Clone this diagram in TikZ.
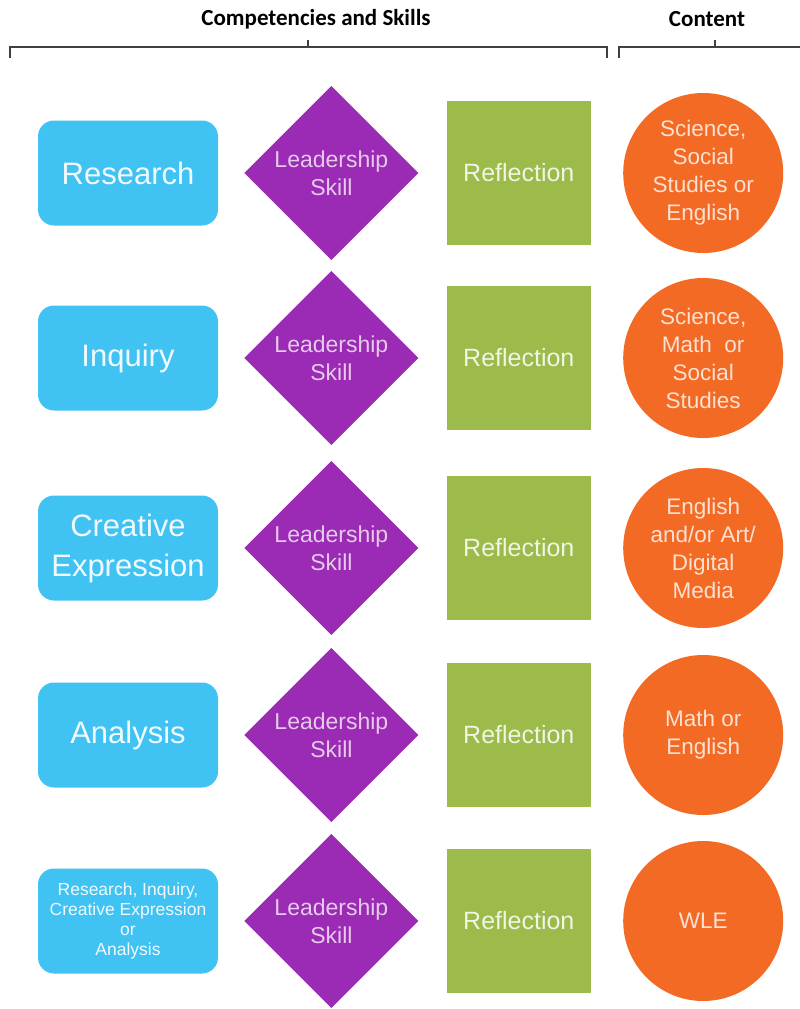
\documentclass[tikz,border=0pt]{standalone}
\usepackage{fontspec}
\setmainfont{Liberation Sans}
\newfontfamily\headfont{Carlito}
\usetikzlibrary{shapes.geometric, positioning}

\definecolor{skyblue}{HTML}{40C2F2}
\definecolor{leadpurple}{HTML}{9B2AB4}
\definecolor{reflgreen}{HTML}{9CBB4B}
\definecolor{contorange}{HTML}{F26A24}

\tikzset{
  competency/.style={rectangle, rounded corners=16pt, fill=skyblue, text=white!92!skyblue, minimum width=180pt, minimum height=105pt, inner sep=0pt, align=center, font=\fontsize{31}{40}\selectfont}, % blue boxes on the left
  leadership/.style={diamond, fill=leadpurple, text=white!75!leadpurple, minimum width=174pt, minimum height=174pt, inner sep=0pt, align=center, font=\fontsize{23}{28}\selectfont}, % purple diamonds
  reflection/.style={rectangle, fill=reflgreen, text=white!85!reflgreen, minimum size=144pt, inner sep=0pt, font=\fontsize{25}{28}\selectfont}, % green squares
  content/.style={circle, fill=contorange, text=white!80!contorange, minimum size=160pt, inner sep=0pt, align=center, font=\fontsize{22.5}{28}\selectfont}, % orange circles
  heading/.style={font=\headfont\bfseries\fontsize{23}{26}\selectfont, text=black}, % titles on top
  bracket/.style={draw=black!75, line width=1.4pt}, % the two brackets
}

\begin{document}
\begin{tikzpicture}[x=1pt, y=-1pt]
    \useasboundingbox (0,0) rectangle (800,1009);

    % headings and brackets
    \node[heading] (skills) at (316,19) {Competencies and Skills};
    \node[heading] (subject) at (707,19) {Content};

    \draw[bracket] (10,58) -- (10,47) -- (607,47) -- (607,58);
    \draw[bracket] (308,47) -- (308,40);
    \draw[bracket] (619,58) -- (619,47) -- (800,47);
    \draw[bracket] (715,47) -- (715,40);

    % row 1
    \node[competency] (c1) at (128,173) {Research};
    \node[leadership, right=26pt of c1] (l1) {Leadership\\Skill};
    \node[reflection, right=28pt of l1] (r1) {Reflection};
    \node[content, right=32pt of r1] (s1) {Science,\\Social\\Studies or\\English};

    % row 2
    \node[competency] (c2) at (128,358) {Inquiry};
    \node[leadership, right=26pt of c2] (l2) {Leadership\\Skill};
    \node[reflection, right=28pt of l2] (r2) {Reflection};
    \node[content, right=32pt of r2] (s2) {Science,\\Math~ or\\Social\\Studies};

    % row 3
    \node[competency] (c3) at (128,548) {Creative\\Expression};
    \node[leadership, right=26pt of c3] (l3) {Leadership\\Skill};
    \node[reflection, right=28pt of l3] (r3) {Reflection};
    \node[content, right=32pt of r3] (s3) {English\\and/or Art/\\Digital\\Media};

    % row 4
    \node[competency] (c4) at (128,735) {Analysis};
    \node[leadership, right=26pt of c4] (l4) {Leadership\\Skill};
    \node[reflection, right=28pt of l4] (r4) {Reflection};
    \node[content, right=32pt of r4] (s4) {Math or\\English};

    % row 5
    \node[competency, font=\fontsize{17.5}{20}\selectfont] (c5) at (128,921) {Research, Inquiry,\\Creative Expression\\or\\Analysis};
    \node[leadership, right=26pt of c5] (l5) {Leadership\\Skill};
    \node[reflection, right=28pt of l5] (r5) {Reflection};
    \node[content, right=32pt of r5] (s5) {WLE};

\end{tikzpicture}
\end{document}
